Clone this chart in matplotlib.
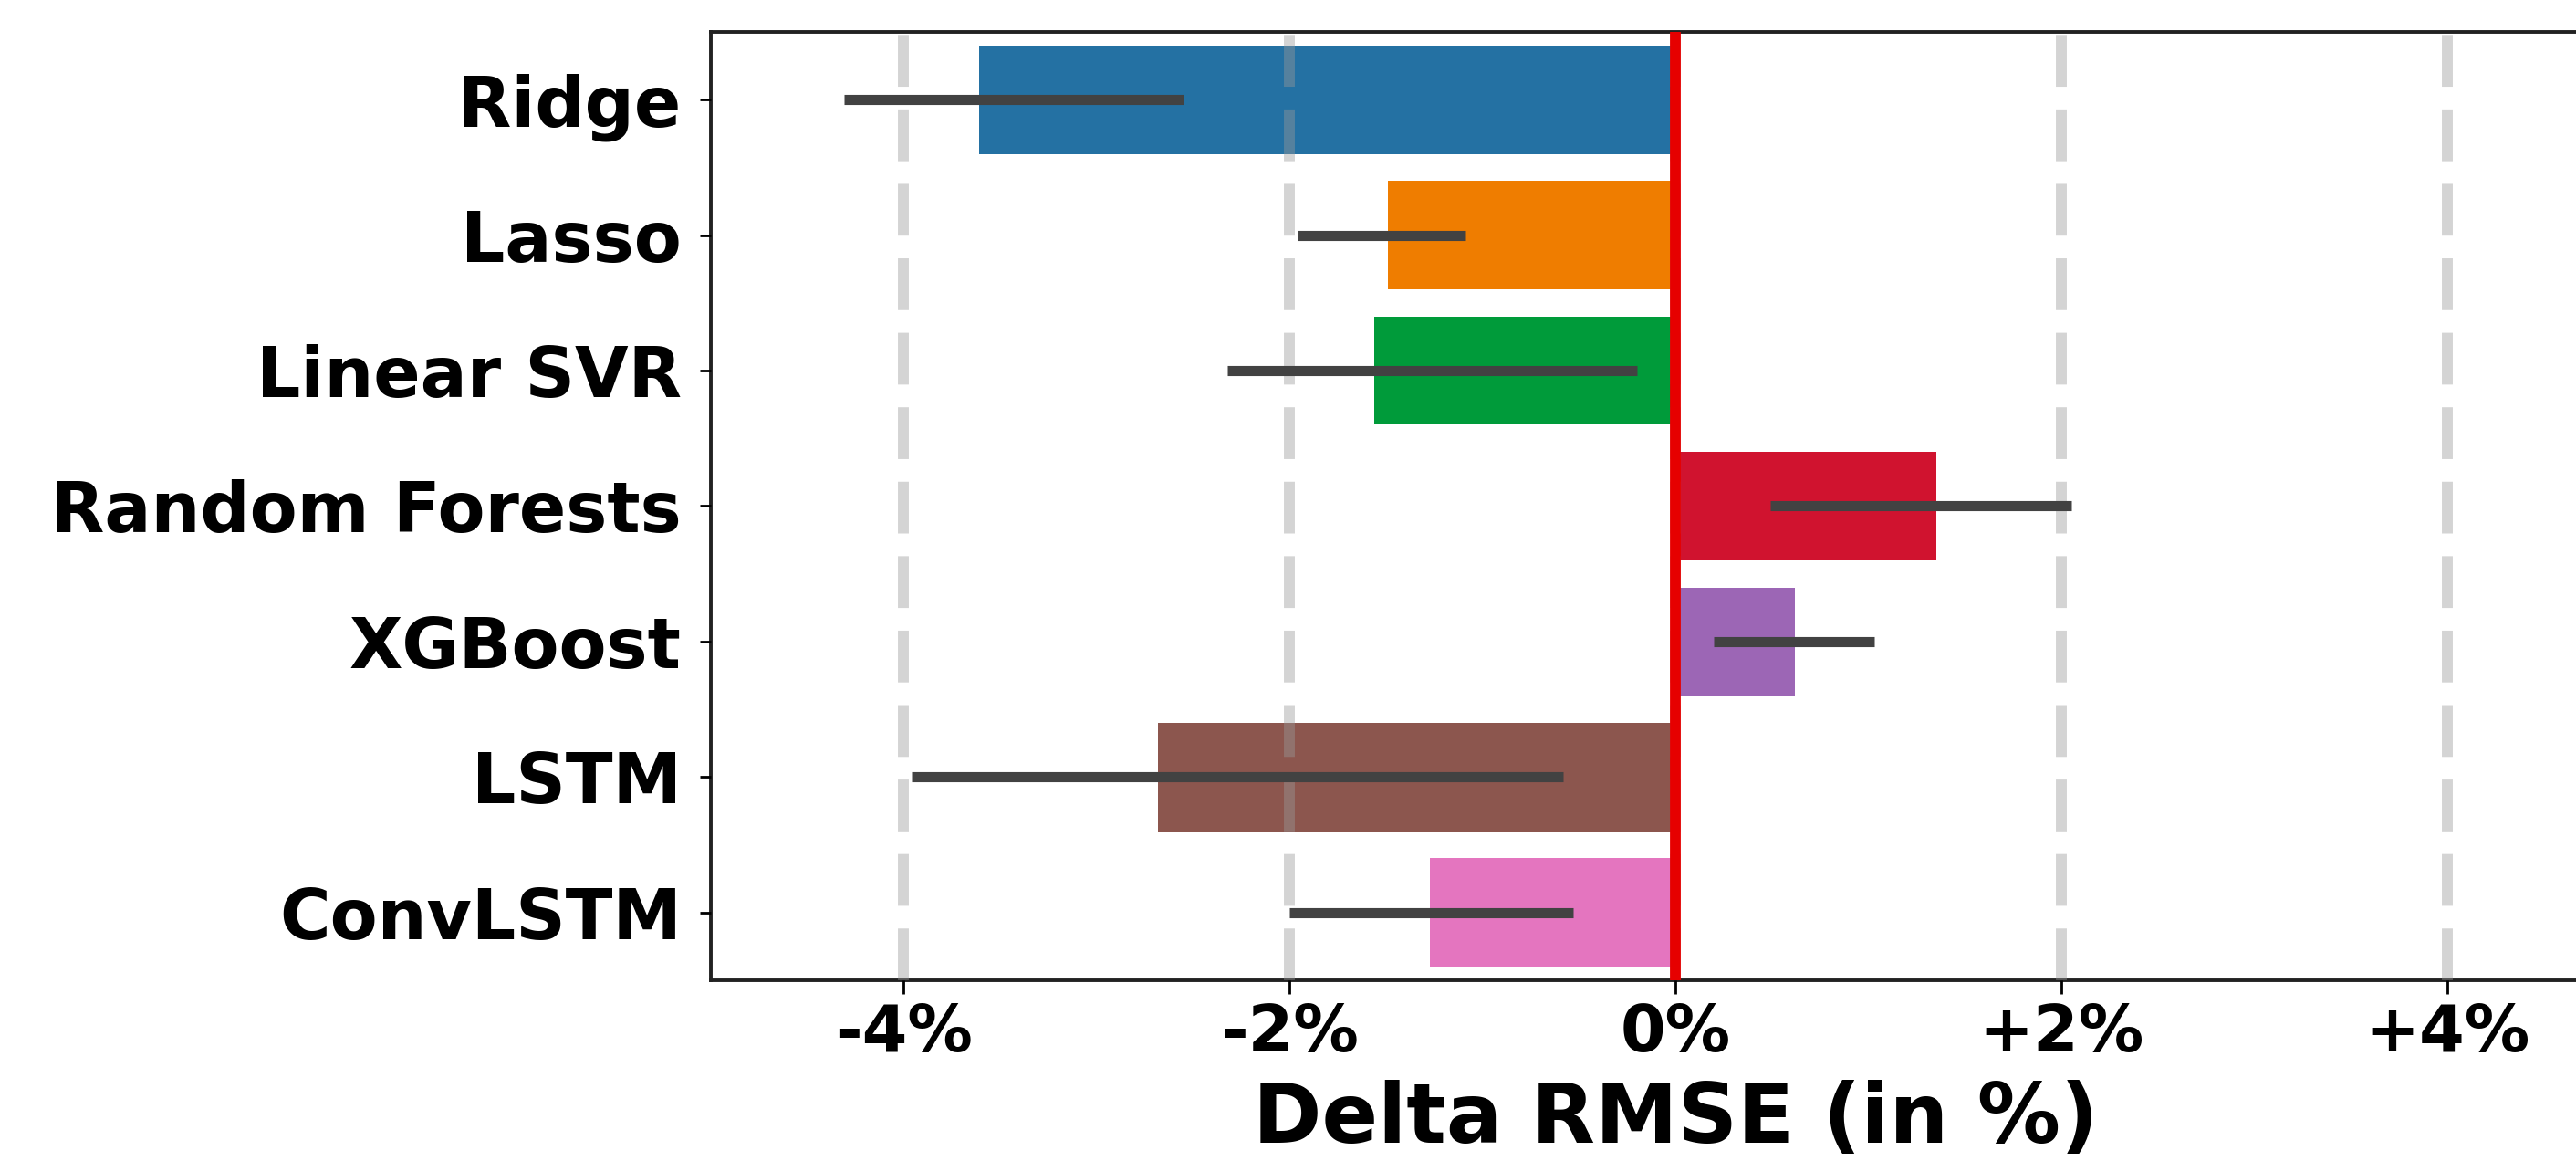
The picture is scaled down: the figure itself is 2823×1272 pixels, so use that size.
import matplotlib
matplotlib.use("Agg")
import matplotlib.pyplot as plt
import numpy as np

# ---- data ----
models = ["Ridge", "Lasso", "Linear SVR", "Random Forests", "XGBoost", "LSTM", "ConvLSTM"]
delta_rmse = [-3.61, -1.49, -1.56, 1.35, 0.62, -2.68, -1.27]
ci_low = [-4.31, -1.96, -2.32, 0.49, 0.20, -3.96, -2.00]
ci_high = [-2.55, -1.09, -0.20, 2.05, 1.03, -0.58, -0.53]
bar_colors = ["#2471a3", "#ef7d00", "#009b3a", "#d0132f", "#9c66b5", "#8c564e", "#e475bf"]
xtick_values = [-4, -2, 0, 2, 4]
xtick_labels = ["-4%", "-2%", "0%", "+2%", "+4%"]
xlabel = "Delta RMSE (in %)"

plt.rcParams['font.family'] = ['DejaVu Sans']

fig = plt.figure(figsize=(28.23, 12.72), dpi=100)
ax = fig.add_axes([0.2758, 0.1557, 0.7492, 0.8168])

ypos = np.arange(len(models))
ax.barh(ypos, delta_rmse, height=0.8, color=bar_colors, edgecolor='none', zorder=1)
ax.hlines(ypos, ci_low, ci_high, colors="#424242", linewidth=8.0, zorder=3,
          capstyle='butt')
ax.axvline(0, color="#e60000", linewidth=8.5, zorder=4)

ax.set_xlim(-5, 5)
ax.set_ylim(len(models) - 0.5, -0.5)

ax.set_yticks(ypos)
ax.set_yticklabels(models, fontsize=54.5, fontweight='bold')
ax.set_xticks(xtick_values)
ax.set_xticklabels(xtick_labels, fontsize=51.5, fontweight='bold')
ax.set_xlabel(xlabel, fontsize=65.5, fontweight='bold', labelpad=12)

ax.tick_params(axis='y', length=9, width=2, pad=14)
ax.tick_params(axis='x', length=11, width=2, pad=6)

ax.set_axisbelow(False)
ax.grid(axis='x', color="#999999", alpha=0.42, linewidth=8.6,
        linestyle=(0, (4.75, 2.08)))
ax.grid(axis='y', visible=False)

for side in ['top', 'bottom', 'left', 'right']:
    ax.spines[side].set_linewidth(2.8)
    ax.spines[side].set_color('#222222')

fig.savefig("out.png", dpi=100)
